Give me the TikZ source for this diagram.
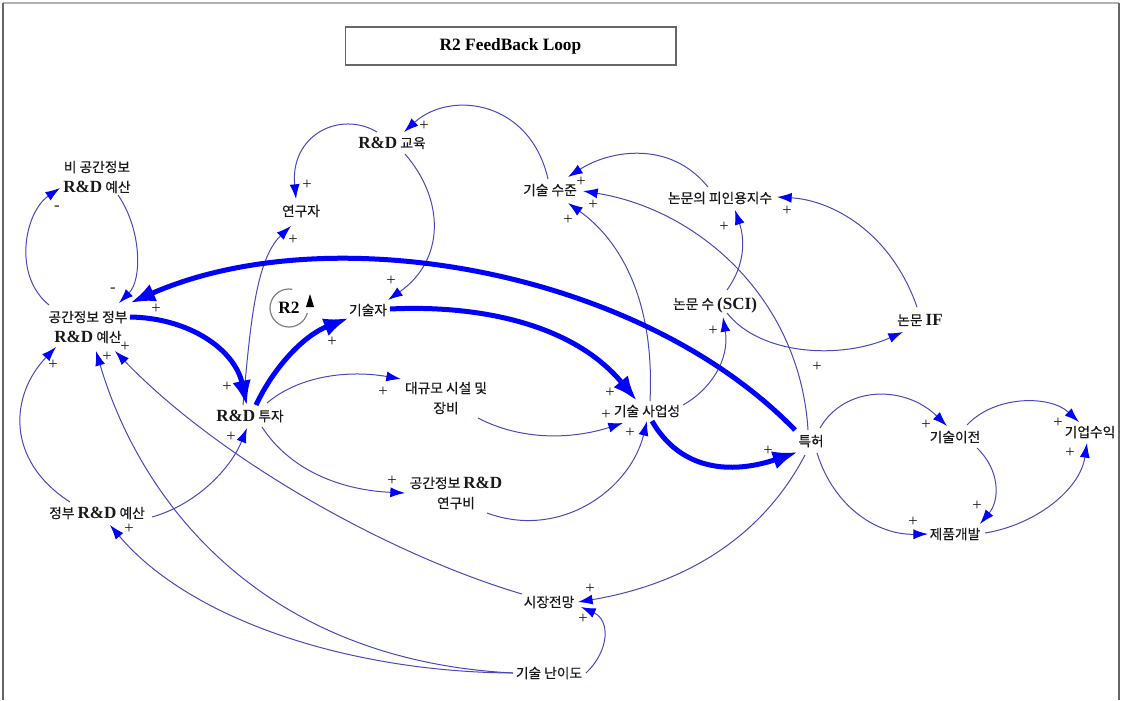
\documentclass[tikz,border=0pt]{standalone}
\usepackage{fontspec}
\setmainfont{Liberation Serif}
\newfontfamily\kr[FakeBold=0.5]{Noto Sans CJK KR}
\usetikzlibrary{arrows.meta,calc}
\definecolor{linkc}{RGB}{72,72,184}
\definecolor{headc}{RGB}{0,0,255}
\definecolor{txtc}{RGB}{25,25,25}
\newcommand{\RD}{{\rmfamily\bfseries\fontsize{12.8}{15}\selectfont R\&D}}
\newcommand{\LB}[1]{{\rmfamily\bfseries\fontsize{12.8}{15}\selectfont #1}}
\begin{document}
\begin{tikzpicture}[x=0.75pt,y=-0.75pt,
 var/.style={font=\kr\fontsize{10.3}{15}\selectfont, text=txtc, inner sep=1pt, align=center},
 sgn/.style={font=\rmfamily\fontsize{12.5}{12}\selectfont, text=txtc, inner sep=0pt},
 thinlink/.style={draw=linkc, line width=0.75pt, -{Latex[length=11pt,width=7.5pt,color=headc]}},
 thicklink/.style={draw=headc, line width=3.75pt, -{Latex[length=19pt,width=14pt]}},
 frameline/.style={draw=gray, line width=1pt}
]
\useasboundingbox (0,0) rectangle (1121,700);
% frame
\draw[frameline, draw=gray!60] (3,3) -- (1119,3);
\draw[frameline, draw=gray!80!black] (3,3) -- (3,700);
\draw[frameline, draw=gray!80!black] (1119,3) -- (1119,700);

% title
\node[draw=gray!80!black, line width=1pt, minimum width=248pt, minimum height=28.5pt,
      font=\rmfamily\bfseries\fontsize{13}{15}\selectfont] (title) at (510.5,46) {R2 FeedBack Loop};

% variables
\node[var] (nonsp) at (97,177) {비 공간정보\\\RD{} 예산};
\node[var] (spgov) at (88,327) {공간정보 정부\\\RD{} 예산};
\node[var] (gov) at (97,513) {정부 \RD{} 예산};
\node[var] (rdinv) at (250,416) {\RD{} 투자};
\node[var] (rdedu) at (392,143) {\RD{} 교육};
\node[var] (res) at (301,211) {연구자};
\node[var] (tlev) at (550,190) {기술 수준};
\node[var] (cite) at (720,198) {논문의 피인용지수};
\node[var] (sci) at (715,305) {논문 수 \LB{(SCI)}};
\node[var] (pif) at (920,320) {논문 \LB{IF}};
\node[var] (eng) at (368,310) {기술자};
\node[var] (fac) at (446,398) {대규모 시설 및\\장비};
\node[var] (biz) at (647,411) {기술 사업성};
\node[var] (pat) at (811,441) {특허};
\node[var] (tt) at (955,437) {기술이전};
\node[var] (prof) at (1090,432) {기업수익};
\node[var] (pd) at (955,534) {제품개발};
\node[var] (fund) at (456,493) {공간정보 \RD\\연구비};
\node[var] (mkt) at (549,602) {시장전망};
\node[var] (diff) at (549,673) {기술 난이도};

% R2 loop symbol
\node[font=\rmfamily\bfseries\fontsize{13}{15}\selectfont, inner sep=0pt] (r2) at (289,308) {R2};
\draw[gray, line width=0.9pt] (r2) ++(-80:19) arc[start angle=-80, end angle=-345, radius=19];
\fill[black] ($(r2)+(21,-14)$) -- ($(r2)+(25,-1)$) -- ($(r2)+(17,-1)$) -- cycle;

% thin links
\draw[thinlink] ($(spgov)+(-39,-22)$) .. controls (12,275) and (25,212) .. ($(nonsp)+(-37,11)$);
\draw[thinlink] ($(nonsp)+(21,18)$) .. controls (142,230) and (142,280) .. ($(spgov)+(31,-24)$);
\draw[thinlink] ($(gov)+(-27,-11)$) .. controls (5,460) and (10,395) .. ($(spgov)+(-32,20)$);
\draw[thinlink] ($(gov)+(55,4)$) .. controls (195,505) and (230,470) .. ($(rdinv)+(-3,12)$);
\draw[thinlink] ($(diff)+(-36,0)$) .. controls (350,672) and (190,620) .. ($(gov)+(13,12)$);
\draw[thinlink] ($(diff)+(-36,0)$) .. controls (260,660) and (140,500) .. ($(spgov)+(8,24)$);
\draw[thinlink] ($(mkt)+(-27,-8)$) .. controls (390,555) and (220,460) .. ($(spgov)+(27,24)$);
\draw[thinlink] ($(rdinv)+(-7,-11)$) .. controls (250,330) and (255,260) .. ($(res)+(-10,15)$);
\draw[thinlink] ($(rdedu)+(-15,-11)$) .. controls (340,110) and (290,135) .. ($(res)+(-5,-12)$);
\draw[thinlink] ($(tlev)+(-2,-11)$) .. controls (530,100) and (450,90) .. ($(rdedu)+(12,-11)$);
\draw[thinlink] ($(rdedu)+(13,11)$) .. controls (445,200) and (445,260) .. ($(eng)+(20,-10)$);
\draw[thinlink] ($(rdinv)+(17,-13)$) .. controls (300,375) and (350,370) .. ($(fac)+(-45,-19)$);
\draw[thinlink] ($(fac)+(32,20)$) .. controls (520,440) and (570,440) .. ($(biz)+(-24,12)$);
\draw[thinlink] ($(rdinv)+(12,11)$) .. controls (290,470) and (340,490) .. ($(fund)+(-51,0)$);
\draw[thinlink] ($(fund)+(31,20)$) .. controls (560,540) and (630,490) .. ($(biz)+(0,10)$);
\draw[thinlink] ($(biz)+(3,-10)$) .. controls (655,300) and (620,240) .. ($(tlev)+(18,13)$);
\draw[thinlink] ($(biz)+(36,-6)$) .. controls (710,390) and (730,360) .. ($(sci)+(8,12)$);
\draw[thinlink] ($(sci)+(12,-15)$) .. controls (745,265) and (745,240) .. ($(cite)+(15,12)$);
\draw[thinlink] ($(sci)+(12,8)$) .. controls (760,355) and (840,360) .. ($(pif)+(-17,12)$);
\draw[thinlink] ($(pif)+(-3,-13)$) .. controls (890,230) and (830,200) .. ($(cite)+(57,-1)$);
\draw[thinlink] ($(cite)+(-12,-11)$) .. controls (670,140) and (610,150) .. ($(tlev)+(18,-13)$);
\draw[thinlink] ($(pat)+(-3,-11)$) .. controls (800,300) and (700,210) .. ($(tlev)+(33,1)$);
\draw[thinlink] ($(pat)+(9,-13)$) .. controls (845,385) and (905,385) .. ($(tt)+(-8,-11)$);
\draw[thinlink] ($(pat)+(6,12)$) .. controls (835,510) and (880,535) .. ($(pd)+(-27,0)$);
\draw[thinlink] ($(tt)+(22,11)$) .. controls (1000,470) and (1000,500) .. ($(pd)+(25,-10)$);
\draw[thinlink] ($(tt)+(12,-12)$) .. controls (995,395) and (1050,395) .. ($(prof)+(-11,-10)$);
\draw[thinlink] ($(pd)+(30,-1)$) .. controls (1035,525) and (1080,490) .. ($(prof)+(-3,11)$);
\draw[thinlink] ($(pat)+(-6,14)$) .. controls (750,560) and (650,590) .. ($(mkt)+(29,0)$);
\draw[thinlink] ($(diff)+(37,0)$) .. controls (610,650) and (610,620) .. ($(mkt)+(32,5)$);

% thick links
\draw[thicklink] ($(spgov)+(42,-10)$) .. controls (190,318) and (235,350) .. ($(rdinv)+(-3,-10)$);
\draw[thicklink] ($(pat)+(-16,-11)$) .. controls (640,270) and (330,215) .. ($(spgov)+(42,-24)$);
\draw[thicklink] ($(rdinv)+(6,-11)$) .. controls (275,365) and (305,335) .. ($(eng)+(-19,8)$);
\draw[thicklink] ($(eng)+(22,-1)$) .. controls (470,305) and (570,320) .. ($(biz)+(-10,-10)$);
\draw[thicklink] ($(biz)+(5,10)$) .. controls (680,470) and (730,475) .. ($(pat)+(-13,11)$);

% polarity signs
\node[sgn] (m1) at (57,208) {-};
\node[sgn] (m2) at (113,290) {-};
\foreach \px/\py [count=\i] in {53/365,107/357,125/347,156/309,227/387,231/437,129/529,
  293/240,307/185,424/126,391/281,332/342,383/392,392/481,
  581/182,593/205,568/220,610/393,606/415,630/433,713/331,724/227,787/211,817/367,
  768/451,926/425,913/522,977/506,1058/423,1070/453,590/589,583/619}
  \node[sgn] (p\i) at (\px,\py) {+};
\end{tikzpicture}
\end{document}
